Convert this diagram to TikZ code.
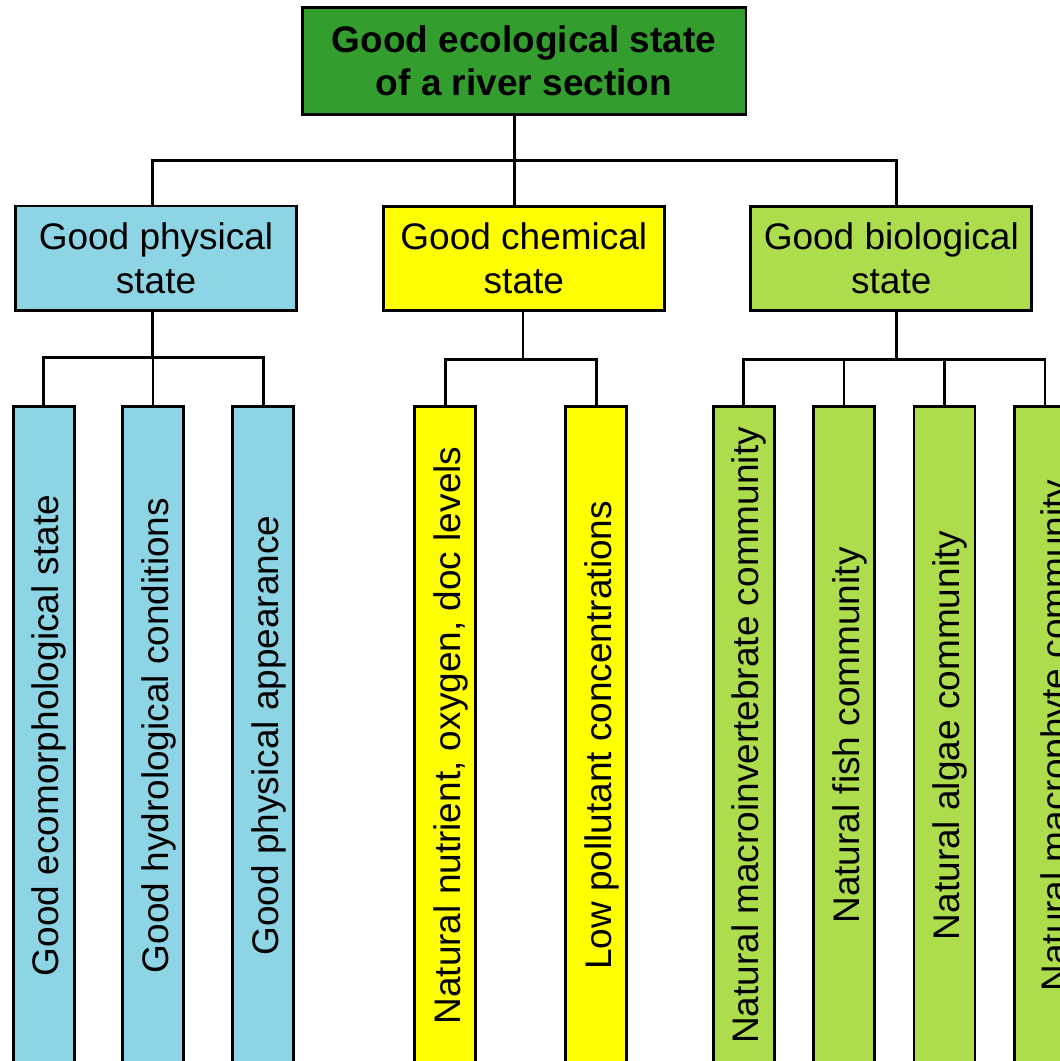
\documentclass[tikz,border=0pt]{standalone}
\usepackage{fontspec}
\setmainfont{Liberation Sans}
\usepackage{graphicx}
\definecolor{topgreen}{RGB}{51,158,46}
\definecolor{physblue}{RGB}{141,212,229}
\definecolor{chemyellow}{RGB}{255,255,0}
\definecolor{biogreen}{RGB}{173,220,77}
\begin{document}
\begin{tikzpicture}[x=1pt,y=-1pt,
  box/.style={draw=black, line width=2.8pt, rectangle, inner sep=0pt, outer sep=0pt},
  conn/.style={draw=black, line width=2.8pt},
  midbox/.style={box, minimum width=281pt, minimum height=104.3pt, align=center,
    font=\fontsize{37}{44}\selectfont},
  leafbox/.style={box, minimum width=61pt, minimum height=657.6pt},
  vtext/.style={font=\fontsize{37}{44}\selectfont, rotate=90, anchor=base, inner sep=0pt}
]
\useasboundingbox (0,0) rectangle (1060,1061);
\clip (0,0) rectangle (1060,1061);

% top
\node[box, fill=topgreen, minimum width=443.8pt, minimum height=107.2pt, align=center,
  font=\fontsize{37}{43.4}\selectfont\bfseries] (top) at (524,61)
  {Good ecological state\\of a river section};

% level 2
\node[midbox, fill=physblue] (phys) at (156,258.1) {Good physical\\state};
\node[midbox, fill=chemyellow] (chem) at (523.85,258.5) {Good chemical\\state};
\node[midbox, fill=biogreen] (bio) at (891.3,258.6) {Good biological\\state};

% level 3 boxes
\node[leafbox, fill=physblue] (c1) at (43.8,735.5) {};
\node[leafbox, fill=physblue] (c2) at (153,735.5) {};
\node[leafbox, fill=physblue] (c3) at (263.2,735.5) {};
\node[leafbox, fill=chemyellow] (c4) at (445.3,735.5) {};
\node[leafbox, fill=chemyellow] (c5) at (596.2,735.5) {};
\node[leafbox, fill=biogreen] (c6) at (743.7,735.5) {};
\node[leafbox, fill=biogreen] (c7) at (844,735.5) {};
\node[leafbox, fill=biogreen] (c8) at (944.5,735.5) {};
\node[leafbox, fill=biogreen, minimum width=76pt] (c9) at (1052.4,735.5) {};

% level 3 texts
\node[vtext] (t1) at ([xshift=15pt]c1.center) {Good ecomorphological state};
\node[vtext] (t2) at ([xshift=15pt]c2.center) {Good hydrological conditions};
\node[vtext] (t3) at ([xshift=15pt]c3.center) {Good physical appearance};
\node[vtext] (t4) at ([xshift=15pt]c4.center) {Natural nutrient, oxygen, doc levels};
\node[vtext] (t5) at ([xshift=15pt]c5.center) {Low pollutant concentrations};
\node[vtext] (t6) at ([xshift=15pt]c6.center) {Natural macroinvertebrate community};
\node[vtext] (t7) at ([xshift=15pt]c7.center) {Natural fish community};
\node[vtext] (t8) at ([xshift=15pt]c8.center) {Natural algae community};
\node[vtext] (t9) at ([xshift=15pt]c9.center) {Natural macrophyte community};

% connectors level 1
\coordinate (j0) at (514.3,160.3);
\coordinate (j1) at (152.3,160.3);
\coordinate (j3) at (896.5,160.3);
\draw[conn] (phys.north -| j1) -- (j1) -- (j3) -- (bio.north -| j3);
\draw[conn] (top.south -| j0) -- (chem.north -| j0);

% connectors level 2 - physical
\coordinate (pb) at (152.3,357.5);
\draw[conn] (phys.south -| pb) -- (pb);
\draw[conn] (c1.north) |- (pb) -| (c3.north);
\draw[conn] (c2.north) -- (c2.north |- pb);

% chemical
\coordinate (cb) at (523,359.5);
\draw[conn] (chem.south -| cb) -- (cb);
\draw[conn] (c4.north) |- (cb) -| (c5.north);

% biological
\coordinate (bb) at (896.5,359.5);
\draw[conn] (bio.south -| bb) -- (bb);
\draw[conn] (c6.north) |- (bb) -| ([xshift=-7.4pt]c9.north);
\draw[conn] (c7.north) -- (c7.north |- bb);
\draw[conn] (c8.north) -- (c8.north |- bb);
\end{tikzpicture}
\end{document}
